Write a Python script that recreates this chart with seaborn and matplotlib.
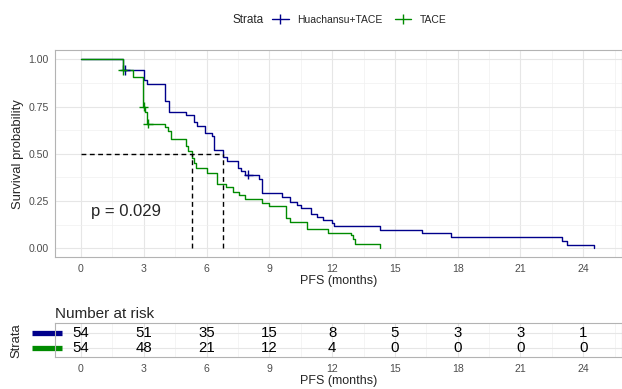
import numpy as np
import pandas as pd
import matplotlib
matplotlib.use("Agg")
import matplotlib.pyplot as plt
from matplotlib.lines import Line2D
from matplotlib.transforms import blended_transform_factory
import seaborn as sns

# %% data
groups = ["Huachansu+TACE", "TACE"]
colors = ["#00008B", "#008B00"]

blue_time = [0, 2.0, 3.0, 3.15, 4.0, 4.2, 5.0, 5.4, 5.55, 5.95, 6.25, 6.35, 6.8, 7.0,
             7.5, 7.65, 7.85, 8.5, 8.65, 9.6, 10.0, 10.3, 10.5, 11.0, 11.3, 11.55,
             12.0, 12.1, 14.3, 16.3, 17.7, 23.0, 23.2, 24.5]
blue_surv = [1.0, 0.944, 0.889, 0.870, 0.778, 0.722, 0.704, 0.667, 0.648, 0.611, 0.593,
             0.519, 0.481, 0.463, 0.426, 0.407, 0.389, 0.365, 0.292, 0.273, 0.247,
             0.229, 0.212, 0.182, 0.167, 0.152, 0.136, 0.118, 0.097, 0.078, 0.058,
             0.039, 0.019, 0.0]

green_time = [0, 2.0, 2.5, 2.97, 3.05, 3.15, 4.0, 4.15, 4.3, 5.0, 5.1, 5.3, 5.4, 5.52,
              6.0, 6.48, 6.95, 7.25, 7.55, 7.85, 8.65, 9.0, 9.8, 10.0, 10.8, 11.8,
              12.9, 13.0, 13.1, 14.3]
green_surv = [1.0, 0.944, 0.907, 0.750, 0.722, 0.660, 0.640, 0.620, 0.580, 0.540, 0.516,
              0.476, 0.450, 0.423, 0.397, 0.340, 0.322, 0.300, 0.280, 0.259, 0.240,
              0.222, 0.160, 0.141, 0.100, 0.083, 0.068, 0.048, 0.023, 0.0]

cens_blue_time = [2.1, 8.0]
cens_blue_surv = [0.944, 0.389]
cens_green_time = [2.0, 3.0, 3.2]
cens_green_surv = [0.944, 0.750, 0.660]

median_blue = 6.8
median_green = 5.3
p_text = "p = 0.029"

risk_times = [0, 3, 6, 9, 12, 15, 18, 21, 24]
risk_blue = [54, 51, 35, 15, 8, 5, 3, 3, 1]
risk_green = [54, 48, 21, 12, 4, 0, 0, 0, 0]

# %% tables for seaborn
curves = pd.concat([
    pd.DataFrame({"time": blue_time, "surv": blue_surv, "strata": groups[0]}),
    pd.DataFrame({"time": green_time, "surv": green_surv, "strata": groups[1]}),
], ignore_index=True)
cens = pd.concat([
    pd.DataFrame({"time": cens_blue_time, "surv": cens_blue_surv, "strata": groups[0]}),
    pd.DataFrame({"time": cens_green_time, "surv": cens_green_surv, "strata": groups[1]}),
], ignore_index=True)
pal = dict(zip(groups, colors))

# %% figure
sns.set_theme(style="whitegrid")
plt.rcParams["font.family"] = ["Liberation Sans", "DejaVu Sans"]

W, H = 622, 389
fig = plt.figure(figsize=(W / 100, H / 100), dpi=100)
ax = fig.add_axes([55 / W, 1 - 257.3 / H, 1 - 55 / W, (257.3 - 50) / H])
axt = fig.add_axes([55 / W, 1 - 357.3 / H, 1 - 55 / W, (357.3 - 323.3) / H])

xlim = (-1.24, 25.85)
grid_col = "#e6e6e6"
border_col = "#b3b3b3"
tick_col = "#4d4d4d"


def style_axes(a):
    a.set_facecolor("white")
    for s in a.spines.values():
        s.set_color(border_col)
        s.set_linewidth(0.8)
    a.grid(which="major", color=grid_col, linewidth=0.8)
    a.grid(which="minor", color="#f0f0f0", linewidth=0.5)
    a.tick_params(axis="both", which="major", length=2.5, width=0.6, color="#333333",
                  labelsize=7.6, labelcolor=tick_col, pad=2)
    a.tick_params(axis="both", which="minor", length=0)
    a.set_axisbelow(True)


# main KM panel
style_axes(ax)
sns.lineplot(data=curves, x="time", y="surv", hue="strata", palette=pal,
             estimator=None, sort=False, drawstyle="steps-post", linewidth=1.0,
             legend=False, ax=ax)
sns.scatterplot(data=cens, x="time", y="surv", hue="strata", palette=pal,
                marker="+", s=45, linewidth=1.0, legend=False, ax=ax, zorder=3)

# median lines
dash = dict(color="black", linestyle=(0, (3.5, 2.5)), linewidth=1.0)
ax.plot([0, median_blue], [0.5, 0.5], **dash)
ax.plot([median_green, median_green], [0, 0.5], **dash)
ax.plot([median_blue, median_blue], [0, 0.5], **dash)

ax.text(0.46, 0.194, p_text, fontsize=12, va="center", ha="left")

ax.set_xlim(xlim)
ax.set_ylim(-0.048, 1.049)
ax.set_xticks(np.arange(0, 25, 3))
ax.set_xticks(np.arange(1.5, 26, 3), minor=True)
ax.set_yticks([0, 0.25, 0.5, 0.75, 1.0])
ax.set_yticklabels(["0.00", "0.25", "0.50", "0.75", "1.00"])
ax.set_yticks([0.125, 0.375, 0.625, 0.875], minor=True)
ax.set_xlabel("PFS (months)", fontsize=9, labelpad=1)
ax.set_ylabel("Survival probability", fontsize=9.4, labelpad=3)

# legend at top
fig.text(233 / W, 1 - 20 / H, "Strata", fontsize=8.5, va="center", ha="left")
handles = [Line2D([], [], color=c, marker="|", markersize=7, markeredgewidth=1.0,
                  linewidth=1.0) for c in colors]
fig.legend(handles, groups, loc="center left", bbox_to_anchor=(272 / W, 1 - 20 / H),
           ncol=2, frameon=False, fontsize=7.5, handlelength=1.6, handletextpad=0.8,
           columnspacing=1.2, borderpad=0, borderaxespad=0)

# risk table
style_axes(axt)
for row, (vals, c) in enumerate(zip([risk_blue, risk_green], colors)):
    y = 2 - row
    for t, v in zip(risk_times, vals):
        axt.text(t, y, str(v), fontsize=10.8, ha="center", va="center", color="black")
    tr = blended_transform_factory(axt.transAxes, axt.transData)
    axt.plot([-0.041, 0.0129], [y, y], color=c, linewidth=3.8, solid_capstyle="butt",
             transform=tr, clip_on=False)

axt.set_xlim(xlim)
axt.set_ylim(0.4, 2.6)
axt.set_xticks(np.arange(0, 25, 3))
axt.set_xticks(np.arange(1.5, 26, 3), minor=True)
axt.set_yticks([1, 2])
axt.set_yticklabels([])
axt.tick_params(axis="y", which="major", length=0)
axt.set_xlabel("PFS (months)", fontsize=9, labelpad=1)
axt.set_ylabel("Strata", fontsize=9.4)
axt.yaxis.set_label_coords(-0.058, 0.5)
axt.set_title("Number at risk", fontsize=11, loc="left", pad=4)

fig.savefig("out.png", dpi=100)
